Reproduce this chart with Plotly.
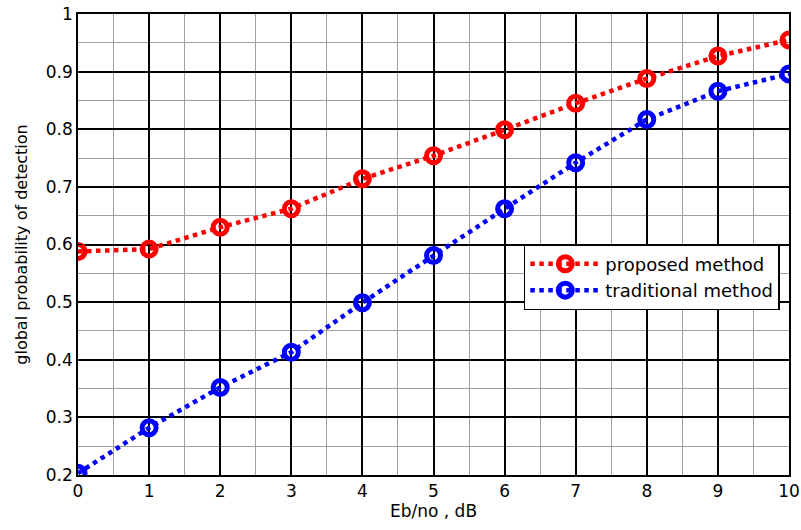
import plotly.graph_objects as go

eb_no = [0, 1, 2, 3, 4, 5, 6, 7, 8, 9, 10]
proposed = [0.588, 0.592, 0.630, 0.662, 0.714, 0.754, 0.799, 0.845, 0.888, 0.927, 0.955]
traditional = [0.203, 0.282, 0.352, 0.413, 0.499, 0.581, 0.662, 0.742, 0.817, 0.866, 0.896]
x_ticks = list(range(0, 11))
y_ticks = [0.2, 0.3, 0.4, 0.5, 0.6, 0.7, 0.8, 0.9, 1.0]
y_tick_labels = ["0.2", "0.3", "0.4", "0.5", "0.6", "0.7", "0.8", "0.9", "1"]

fig = go.Figure()
for name, ys, col in [("proposed method", proposed, "#ff0000"),
                      ("traditional method", traditional, "#0000ff")]:
    fig.add_trace(go.Scatter(
        x=eb_no, y=ys, name=name, mode="lines+markers",
        line=dict(color=col, width=4.5, dash="dot"),
        marker=dict(symbol="circle-open", size=14, color=col,
                    line=dict(color=col, width=5)),
    ))

font = "DejaVu Sans, Arial, sans-serif"
fig.update_layout(
    width=801, height=530,
    margin=dict(l=78, r=12, t=14, b=55),
    paper_bgcolor="white", plot_bgcolor="white",
    font=dict(family=font, color="black", size=17),
    legend=dict(x=0.627, y=0.501, xanchor="left", yanchor="top",
                bgcolor="white", bordercolor="black", borderwidth=1.5,
                font=dict(size=18, family=font), itemwidth=70,
                tracegroupgap=0),
    xaxis=dict(range=[0, 10], tickvals=x_ticks, ticks="inside", ticklen=4,
               tickcolor="black", showline=True, linecolor="black",
               linewidth=1.5, mirror="ticks", showgrid=True,
               gridcolor="black", gridwidth=1.5, zeroline=False,
               automargin=False,
               title=dict(text="Eb/no , dB", font=dict(size=17), standoff=2),
               tickfont=dict(size=17),
               minor=dict(dtick=0.5, showgrid=True, gridcolor="#a0a0a0",
                          gridwidth=1)),
    yaxis=dict(range=[0.2, 1.0], tickvals=y_ticks, ticktext=y_tick_labels,
               ticks="inside", ticklen=4, tickcolor="black", showline=True,
               linecolor="black", linewidth=1.5, mirror="ticks",
               showgrid=True, gridcolor="black", gridwidth=1.5,
               zeroline=False, automargin=False,
               title=dict(text="global probability of detection",
                          font=dict(size=16), standoff=14),
               tickfont=dict(size=17),
               minor=dict(dtick=0.05, tick0=0.2, showgrid=True,
                          gridcolor="#a0a0a0", gridwidth=1)),
)
fig.write_html("out.html")
